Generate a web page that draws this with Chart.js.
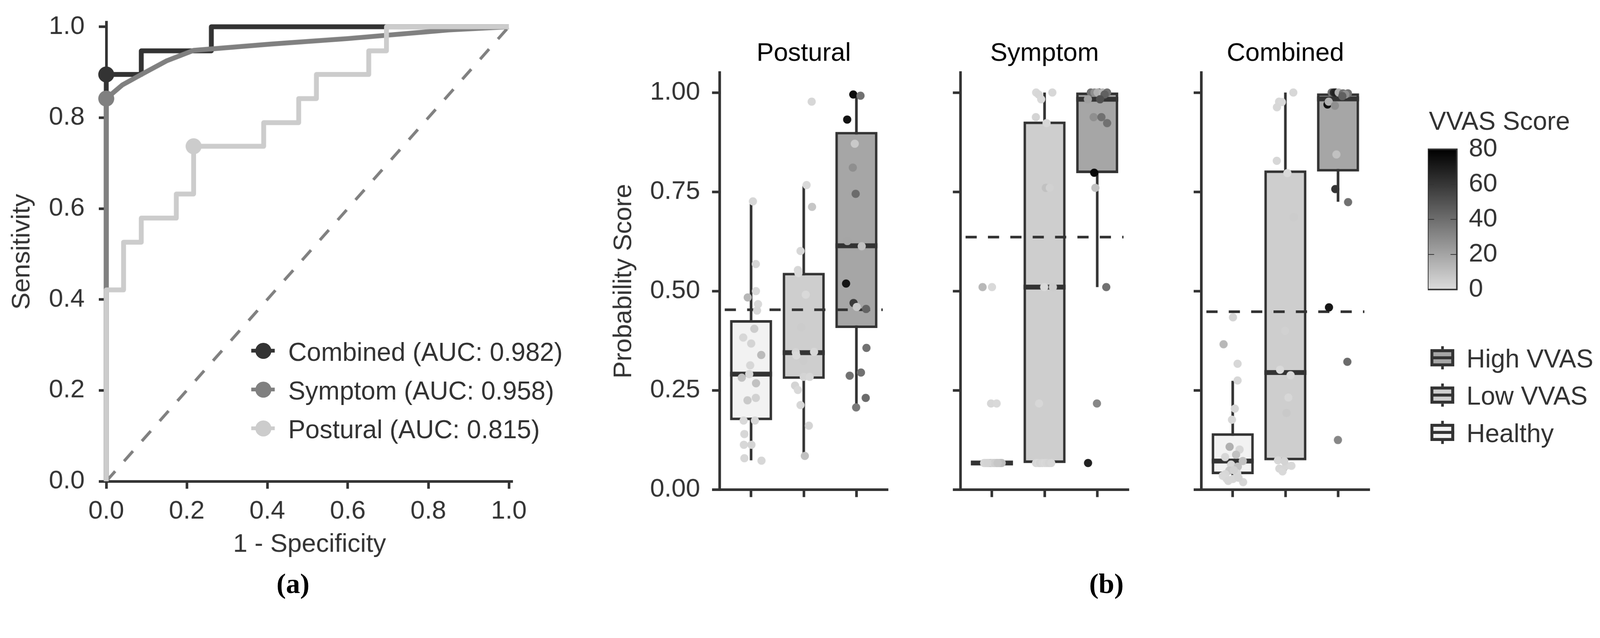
<!doctype html>
<html>
<head>
<meta charset="utf-8">
<title>ROC curves and probability scores by VVAS group</title>
<style>
  html, body { margin: 0; background: #fff; overflow: hidden; }
  #page { position: relative; width: 4292px; height: 1632px; overflow: hidden; transform-origin: 0 0;
          font-family: "Liberation Sans", Arial, sans-serif; color: #333; }
  #page canvas { position: absolute; }
  .lbl { position: absolute; font-size: 69px; line-height: 69px; white-space: nowrap; }
  .tag { position: absolute; width: 400px; text-align: center; color: #000;
         font: bold 76px/76px "Liberation Serif", "Times New Roman", serif; }
  .sw { position: absolute; box-sizing: border-box; }
</style>
<script src="https://cdn.jsdelivr.net/npm/chart.js@4.4.1/dist/chart.umd.min.js"></script>
</head>
<body>
<div id="page"></div>
<script>
// ---- (a) ROC data ----
const rocNames = ['Combined', 'Symptom', 'Postural'];
const rocAuc = [0.982, 0.958, 0.815];
const rocTicks = [0, 0.2, 0.4, 0.6, 0.8, 1.0];
const combinedFpr = [0, 0, 0.087, 0.261, 1];
const combinedTpr = [0, 0.895, 0.947, 1, 1];
const symptomFpr = [0, 0, 0.04, 0.087, 0.15, 0.217, 0.41, 0.6, 0.85, 1];
const symptomTpr = [0, 0.842, 0.872, 0.895, 0.925, 0.948, 0.962, 0.974, 0.993, 1];
const posturalFpr = [0, 0, 0.043, 0.087, 0.174, 0.217, 0.391, 0.478, 0.522, 0.652, 0.696, 1];
const posturalTpr = [0, 0.421, 0.526, 0.579, 0.632, 0.737, 0.789, 0.842, 0.895, 0.947, 1, 1];
const rocMarkerFpr = [0, 0, 0.217];
const rocMarkerTpr = [0.895, 0.842, 0.737];

// ---- (b) probability scores ----
const panelNames = ['Postural', 'Symptom', 'Combined'];
const groupNames = ['Healthy', 'Low VVAS', 'High VVAS'];
const scoreTicks = [0, 0.25, 0.5, 0.75, 1.0];
const groupTicks = [0, 1, 2];
const vvasTicks = [0, 20, 40, 60, 80];

const posturalQ1 = [0.175, 0.279, 0.407];
const posturalMedian = [0.291, 0.345, 0.614];
const posturalQ3 = [0.427, 0.546, 0.901];
const posturalWhiskerLow = [0.074, 0.088, 0.210];
const posturalWhiskerHigh = [0.720, 0.765, 0.995];
const posturalCutoff = 0.453;

const symptomQ1 = [0.067, 0.067, 0.797];
const symptomMedian = [0.067, 0.510, 0.983];
const symptomQ3 = [0.067, 0.927, 1.000];
const symptomWhiskerLow = [0.067, 0.067, 0.510];
const symptomWhiskerHigh = [0.067, 1.000, 1.000];
const symptomCutoff = 0.636;

const combinedQ1 = [0.039, 0.074, 0.801];
const combinedMedian = [0.072, 0.295, 0.984];
const combinedQ3 = [0.142, 0.804, 0.998];
const combinedWhiskerLow = [0.019, 0.048, 0.725];
const combinedWhiskerHigh = [0.274, 1.000, 1.000];
const combinedCutoff = 0.448;

// subjects: [jitter, probability score, VVAS score]
const posturalHealthy = [[0.035,0.726,2],[0.09,0.568,2],[0.092,0.500,1],[-0.064,0.484,14],[0.132,0.467,1],[0.113,0.451,2],
  [0.061,0.405,6],[-0.149,0.383,2],[0.002,0.368,3],[0.193,0.339,12],[-0.017,0.313,2],[-0.035,0.291,1],[-0.177,0.282,10],
  [0.094,0.268,10],[-0.068,0.225,7],[0.09,0.231,4],[-0.142,0.174,1],[0.073,0.174,2],[-0.127,0.14,2],[-0.137,0.113,2],
  [0.007,0.113,3],[-0.127,0.079,2],[0.198,0.073,2]];
const posturalLow = [[0.151,0.977,2],[0.054,0.767,1],[0.158,0.712,8],[-0.061,0.601,2],[-0.111,0.553,2],[-0.101,0.545,1],
  [0.038,0.491,1],[-0.05,0.409,6],[-0.151,0.346,3],[-0.141,0.338,1],[0.196,0.347,2],[-0.005,0.325,6],[0,0.284,3],
  [0.113,0.284,2],[-0.165,0.262,3],[-0.111,0.251,1],[-0.061,0.213,2],[0.097,0.161,3],[0.021,0.085,10]];
const posturalHigh = [[-0.059,0.995,76],[0.078,0.992,39],[-0.175,0.932,73],[-0.031,0.871,7],[-0.068,0.811,28],
  [-0.014,0.745,41],[-0.172,0.626,20],[0.101,0.613,10],[-0.196,0.519,73],[-0.054,0.470,59],[0.007,0.460,7],
  [0.184,0.455,44],[0.191,0.357,39],[0.087,0.295,39],[-0.127,0.287,39],[0.177,0.231,41],[-0.005,0.207,36]];

const symptomHealthy = [[-0.177,0.51,13],[0.002,0.51,1],[-0.016,0.217,2],[0.09,0.217,1],
  [-0.148,0.067,3],[-0.121,0.067,7],[-0.097,0.067,2],[-0.066,0.067,7],[-0.041,0.067,4],[-0.012,0.067,9],[0.016,0.067,3],
  [0.035,0.067,2],[0.058,0.067,8],[0.081,0.067,5],[0.099,0.067,10],[0.124,0.067,4],[0.143,0.067,6],[0.162,0.067,10],
  [0.186,0.067,11],[-0.132,0.067,2],[0.047,0.067,5],[-0.085,0.067,3],[0.11,0.067,8]];
const symptomLow = [[-0.16,1.0,1],[-0.113,0.995,2],[-0.064,0.983,1],[0.148,1.0,2],[-0.165,0.938,3],[0.038,0.923,2],
  [0.024,0.76,10],[0.099,0.76,4],[-0.007,0.51,1],[0.158,0.51,6],[-0.104,0.217,2],
  [-0.162,0.067,2],[-0.118,0.067,1],[-0.084,0.067,3],[-0.041,0.067,2],[0.006,0.067,1],[0.043,0.067,2],[0.088,0.067,3],[0.126,0.067,2]];
const symptomHigh = [[0.03,1.0,73],[-0.122,1.0,39],[-0.052,1.0,28],[0.007,1.0,16],[0.101,1.0,13],[0.188,1.0,39],
  [0.14,0.995,45],[-0.177,0.983,22],[0.054,0.983,51],[-0.068,0.938,28],[0.08,0.938,39],[0.188,0.923,39],
  [-0.057,0.798,77],[-0.035,0.760,10],[0.172,0.510,39],[-0.005,0.217,31],[-0.174,0.067,68]];

const combinedHealthy = [[0.005,0.434,3],[-0.174,0.366,13],[0.092,0.317,2],[0.092,0.275,2],[0.04,0.204,2],[-0.014,0.176,2],
  [-0.059,0.108,16],[0.13,0.101,2],[0.064,0.088,10],[-0.144,0.082,2],[0.191,0.072,10],[-0.031,0.063,2],[0.097,0.058,10],
  [-0.066,0.048,7],[-0.139,0.039,2],[0.085,0.041,2],[-0.12,0.028,1],[0.005,0.027,2],[0.198,0.019,2],[-0.19,0.035,1],
  [-0.085,0.022,2],[0.02,0.049,4],[0.11,0.03,3]];
const combinedLow = [[0.151,1.0,2],[-0.12,0.977,2],[-0.066,0.976,1],[-0.16,0.963,2],[-0.163,0.828,2],[0.038,0.797,1],
  [0.158,0.686,6],[-0.007,0.40,4],[-0.101,0.302,1],[0.099,0.288,2],[0.057,0.232,2],[0.021,0.193,7],[-0.042,0.091,5],
  [-0.141,0.074,2],[-0.115,0.053,2],[-0.054,0.046,1],[0.014,0.060,2],[0.115,0.060,1],[-0.02,0.072,3]];
const combinedHigh = [[-0.2,0.970,74],[-0.177,0.977,16],[-0.122,1.0,39],[-0.08,1.0,64],[-0.047,1.0,68],[0.012,1.0,16],
  [0.094,0.998,39],[0.188,0.998,39],[0.14,0.995,28],[-0.059,0.967,28],[0.082,0.991,45],[-0.031,0.844,10],
  [-0.052,0.757,61],[0.191,0.724,39],[-0.172,0.459,72],[0.177,0.322,41],[-0.002,0.125,31]];

// ---- styles ----
const INK = '#333333';
const FONT = '"Liberation Sans", Arial, sans-serif';
const rocColors = ['#333333', '#808080', '#cccccc'];
const boxFills = ['#f2f2f2', '#cecece', '#a6a6a6'];
const boxHalf = 0.4;

Chart.defaults.font.family = FONT;
Chart.defaults.font.size = 69;
Chart.defaults.color = INK;

const page = document.getElementById('page');
// keep the whole 4292x1632 figure inside whatever viewport we get
const fit = Math.min(window.innerWidth / 4292, window.innerHeight / 1632);
if (fit > 0 && fit < 1) page.style.transform = `scale(${fit})`;

function vvasColor(v) {
  const g = Math.round(220 * (1 - v / 80));
  return `rgb(${g},${g},${g})`;
}
function addCanvas(left, top, width, height) {
  const c = document.createElement('canvas');
  c.width = width; c.height = height;
  c.style.cssText = `left:${left}px;top:${top}px;width:${width}px;height:${height}px`;
  page.appendChild(c);
  return c;
}
function addEl(cls, css, text) {
  const d = document.createElement('div');
  d.className = cls;
  d.style.cssText = css;
  if (text) d.textContent = text;
  page.appendChild(d);
  return d;
}
// pin the axis box size so the plot area lands where the figure has it
function fixSize(size) {
  return axis => {
    if (axis.isHorizontal()) axis.height = size; else axis.width = size;
    axis.paddingLeft = axis.paddingRight = axis.paddingTop = axis.paddingBottom = 0;
  };
}
function setTicks(values) {
  return axis => { axis.ticks = values.map(v => ({ value: v })); };
}
const spine = { display: true, color: INK, width: 7 };
const tickMarks = { display: true, drawOnChartArea: false, drawTicks: true, offset: false,
                    tickLength: 20, tickWidth: 7, tickColor: INK };
const common = { responsive: false, animation: false, events: [], devicePixelRatio: 1,
                 plugins: { legend: { display: false }, tooltip: { enabled: false } } };

// ---- (a) ROC ----
function xy(xs, ys) { return xs.map((x, i) => ({ x, y: ys[i] })); }

new Chart(addCanvas(0, 0, 1450, 1632), {
  type: 'scatter',
  data: {
    datasets: [
      ...rocNames.map((n, i) => ({
        label: n + ' cut-off', data: [{ x: rocMarkerFpr[i], y: rocMarkerTpr[i] }],
        pointRadius: 21.5, pointBackgroundColor: rocColors[i], pointBorderWidth: 0, order: 0, clip: false
      })),
      { label: rocNames[2], data: xy(posturalFpr, posturalTpr), showLine: true, stepped: 'before',
        borderColor: rocColors[2], borderWidth: 13, borderJoinStyle: 'round', pointRadius: 0, order: 1, clip: false },
      { label: rocNames[1], data: xy(symptomFpr, symptomTpr), showLine: true,
        borderColor: rocColors[1], borderWidth: 13, borderJoinStyle: 'round', pointRadius: 0, order: 2, clip: false },
      { label: rocNames[0], data: xy(combinedFpr, combinedTpr), showLine: true, stepped: 'before',
        borderColor: rocColors[0], borderWidth: 13, borderJoinStyle: 'round', pointRadius: 0, order: 3, clip: false },
      { label: 'chance', data: [{ x: 0, y: 0 }, { x: 1, y: 1 }], showLine: true,
        borderColor: '#808080', borderWidth: 8, borderDash: [36, 36], pointRadius: 0, order: 4 }
    ]
  },
  options: {
    ...common,
    layout: { padding: { left: 0, top: 59.5, right: 74.2, bottom: 102 } },
    scales: {
      x: { type: 'linear', min: 0, max: 1.01, bounds: 'data',
           afterBuildTicks: setTicks(rocTicks), afterFit: fixSize(240),
           ticks: { padding: 20, autoSkip: false, maxRotation: 0, callback: v => v.toFixed(1) },
           grid: tickMarks, border: spine,
           title: { display: true, text: '1 - Specificity', padding: { top: 0, bottom: 28.6 } } },
      y: { type: 'linear', min: 0, max: 1.01, bounds: 'data',
           afterBuildTicks: setTicks(rocTicks), afterFit: fixSize(285),
           ticks: { padding: 38, autoSkip: false, callback: v => v.toFixed(1) },
           grid: tickMarks, border: spine,
           title: { display: true, text: 'Sensitivity', padding: { top: 18.6, bottom: 0 } } }
    }
  }
});

// ROC legend
rocNames.forEach((n, i) => {
  const yc = 940 + 104 * i;
  addEl('sw', `left:674px;top:${yc - 5}px;width:63px;height:10px;background:${rocColors[i]}`);
  addEl('sw', `left:685px;top:${yc - 21.5}px;width:43px;height:43px;border-radius:50%;background:${rocColors[i]}`);
  addEl('lbl', `left:773px;top:${yc - 31}px`, `${n} (AUC: ${rocAuc[i].toFixed(3)})`);
});
addEl('tag', 'left:586px;top:1526px', '(a)');

// ---- (b) box + strip panels ----
function boxPanel(p, chartLeft, q1, med, q3, wLo, wHi, cutoff, groups) {
  const datasets = [];
  groups.forEach((pts, g) => datasets.push({
    type: 'scatter', label: groupNames[g],
    data: pts.map(t => ({ x: g + t[0], y: t[1] })),
    pointRadius: 11, pointBorderWidth: 0,
    pointBackgroundColor: pts.map(t => vvasColor(t[2])), order: 0
  }));
  datasets.push({
    type: 'line', label: 'cut-off', data: [{ x: -0.5, y: cutoff }, { x: 2.5, y: cutoff }],
    borderColor: INK, borderWidth: 7, borderDash: [30, 30], pointRadius: 0, order: 1
  });
  groupNames.forEach((n, g) => datasets.push({
    type: 'line', label: n + ' median', data: [{ x: g - boxHalf, y: med[g] }, { x: g + boxHalf, y: med[g] }],
    borderColor: INK, borderWidth: 13, pointRadius: 0, order: 2
  }));
  datasets.push({
    type: 'bar', label: 'IQR', data: q1.map((v, g) => ({ x: g, y: [v, q3[g]] })),
    backgroundColor: boxFills, borderColor: INK, borderWidth: 7, borderSkipped: false,
    barPercentage: 2 * boxHalf, categoryPercentage: 1, order: 3
  });
  groupNames.forEach((n, g) => datasets.push({
    type: 'line', label: n + ' whiskers', data: [{ x: g, y: wLo[g] }, { x: g, y: wHi[g] }],
    borderColor: INK, borderWidth: 7, pointRadius: 0, order: 4
  }));

  const first = p === 0;
  new Chart(addCanvas(chartLeft - 370, 0, 900, 1632), {
    type: 'bar',
    data: { datasets },
    options: {
      ...common,
      layout: { padding: { left: 0, top: 102.6, right: 78, bottom: 219.6 } },
      plugins: { ...common.plugins,
        title: { display: true, text: panelNames[p], color: '#000', fullSize: false,
                 font: { size: 69, weight: 'normal' }, padding: { top: 0, bottom: 9.4 } } },
      scales: {
        x: { type: 'linear', min: -0.6, max: 2.6, bounds: 'data', offset: false,
             afterBuildTicks: setTicks(groupTicks), afterFit: fixSize(100),
             ticks: { autoSkip: false, maxRotation: 0, callback: () => '' },
             grid: tickMarks, border: spine },
        y: { type: 'linear', min: 0, max: 1.05, bounds: 'data', beginAtZero: true,
             afterBuildTicks: setTicks(scoreTicks), afterFit: fixSize(370),
             ticks: { padding: 32, autoSkip: false, callback: v => first ? v.toFixed(2) : '' },
             grid: tickMarks, border: spine,
             title: { display: first, text: 'Probability Score', padding: { top: 72.6, bottom: 0 } } }
      }
    }
  });
}

boxPanel(0, 1930, posturalQ1, posturalMedian, posturalQ3, posturalWhiskerLow, posturalWhiskerHigh,
         posturalCutoff, [posturalHealthy, posturalLow, posturalHigh]);
boxPanel(1, 2576, symptomQ1, symptomMedian, symptomQ3, symptomWhiskerLow, symptomWhiskerHigh,
         symptomCutoff, [symptomHealthy, symptomLow, symptomHigh]);
boxPanel(2, 3222, combinedQ1, combinedMedian, combinedQ3, combinedWhiskerLow, combinedWhiskerHigh,
         combinedCutoff, [combinedHealthy, combinedLow, combinedHigh]);

// ---- VVAS colour bar ----
const colorbar = {
  id: 'colorbar',
  afterDraw(chart) {
    const { ctx, chartArea: a, scales: { y } } = chart;
    const top = vvasTicks[vvasTicks.length - 1];
    const grad = ctx.createLinearGradient(0, a.bottom, 0, a.top);
    vvasTicks.forEach(v => grad.addColorStop(v / top, vvasColor(v)));
    ctx.save();
    ctx.fillStyle = grad;
    ctx.fillRect(a.left, a.top, a.right - a.left, a.bottom - a.top);
    ctx.strokeStyle = INK;
    ctx.lineWidth = 2;
    vvasTicks.slice(1, -1).forEach(v => {
      const py = y.getPixelForValue(v);
      ctx.beginPath();
      ctx.moveTo(a.left, py); ctx.lineTo(a.left + 17, py);
      ctx.moveTo(a.right - 17, py); ctx.lineTo(a.right, py);
      ctx.stroke();
    });
    ctx.lineWidth = 4;
    ctx.strokeRect(a.left, a.top, a.right - a.left, a.bottom - a.top);
    ctx.restore();
  }
};
new Chart(addCanvas(3830, 0, 462, 1632), {
  type: 'scatter',
  data: { datasets: [] },
  options: {
    ...common,
    layout: { padding: { left: 0, top: 400, right: 184, bottom: 856 } },
    scales: {
      x: { display: false, min: 0, max: 1 },
      y: { position: 'right', min: 0, max: 80, bounds: 'data',
           afterBuildTicks: setTicks(vvasTicks), afterFit: fixSize(200),
           ticks: { padding: 24, autoSkip: false },
           grid: { display: false }, border: { display: false } }
    }
  },
  plugins: [colorbar]
});
addEl('lbl', 'left:3833px;top:290px', 'VVAS Score');

// group legend (boxplot glyphs), top entry = High VVAS
groupNames.slice().reverse().forEach((n, i) => {
  const g = groupNames.length - 1 - i;
  const yc = 959 + 100 * i;
  addEl('sw', `left:3866px;top:${yc - 31}px;width:7px;height:62px;background:${INK}`);
  addEl('sw', `left:3837px;top:${yc - 23}px;width:64px;height:46px;border:8px solid ${INK};background:${boxFills[g]}`);
  addEl('sw', `left:3837px;top:${yc - 4}px;width:64px;height:8px;background:${INK}`);
  addEl('lbl', `left:3934px;top:${yc - 32}px`, n);
});
addEl('tag', 'left:2768px;top:1526px', '(b)');
</script>
</body>
</html>
